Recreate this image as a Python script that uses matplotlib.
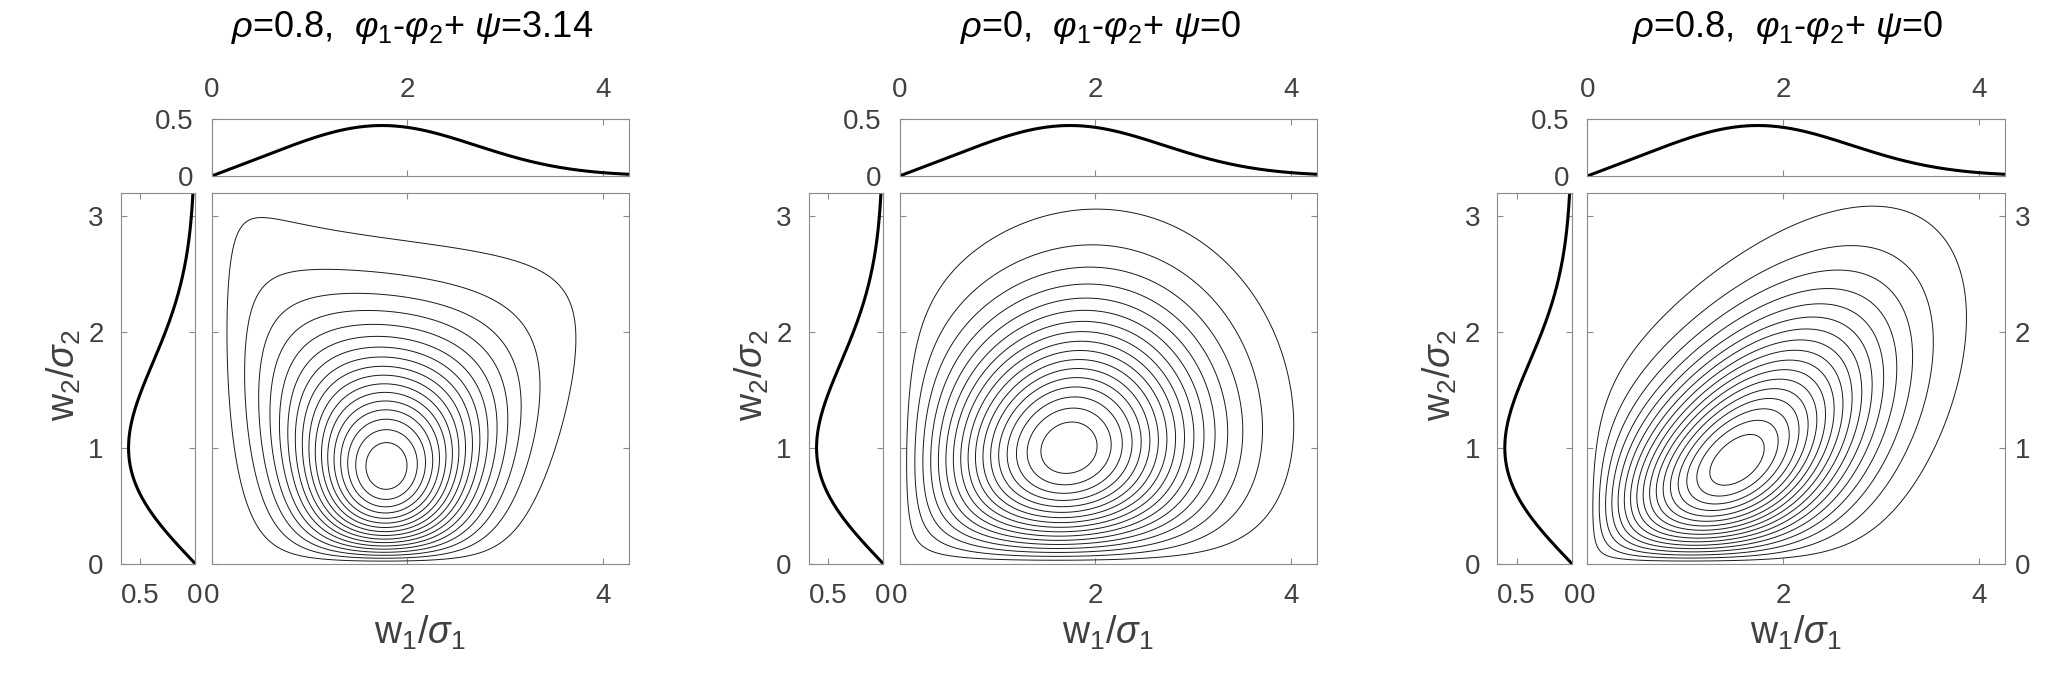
import numpy as np
import matplotlib
matplotlib.use('Agg')
import matplotlib.pyplot as plt

plt.rcParams['font.family'] = ['Liberation Sans', 'DejaVu Sans']
plt.rcParams['mathtext.fontset'] = 'custom'
plt.rcParams['mathtext.rm'] = 'Liberation Sans'
plt.rcParams['mathtext.it'] = 'Liberation Sans:italic'

# panel parameters (titles)
rho_labels = ['0.8', '0', '0.8']
phase_labels = ['3.14', '0', '0']

# marginals: w1/sigma1 is Rice, w2/sigma2 is Rayleigh
nu = 1.5
sig2 = 1.0

# values: peak, points on the outermost, second and innermost contour
peak_pts = [(1.83, 0.82), (1.73, 1.00), (1.70, 0.87)]
outer_pts = [
    [(0.11, 1.5), (0.22, 2.55), (0.58, 2.85), (1.2, 2.93), (1.95, 2.83), (2.86, 2.62),
     (3.5, 2.4), (3.69, 1.87), (3.55, 1.2), (3.22, 0.56), (2.86, 0.18)],
    [(1.74, 3.05), (0.08, 1.12), (4.0, 1.0), (3.2, 2.7), (3.79, 2.06)],
    [(0.12, 1.12), (0.28, 1.87), (0.46, 2.02), (1.69, 2.53), (2.74, 2.85), (3.42, 3.04),
     (3.79, 2.98), (3.96, 2.62), (3.92, 2.25), (3.6, 1.75), (3.19, 1.27), (2.74, 0.74), (2.28, 0.37)],
]
second_pts = [
    [(1.04, 2.62), (1.95, 2.53), (0.33, 1.5), (3.43, 1.7)],
    [],
    [],
]
inner_pts = [
    [(1.54, 0.82), (2.13, 0.82), (1.83, 1.045), (1.83, 0.593)],
    [(1.38, 0.98), (2.08, 0.98), (1.73, 1.18), (1.73, 0.78)],
    [(1.24, 0.74), (1.83, 1.12), (2.17, 1.01), (1.46, 0.61)],
]
n_terms = [7, 5, 5]
level_lo, level_hi, n_levels = 0.048, 0.952, 17
levels = np.linspace(level_lo, level_hi, n_levels)


def rice(x):
    return x * np.exp(-(x**2 + nu**2) / 2) * np.i0(nu * x)


def rayleigh(y):
    return y / sig2**2 * np.exp(-y**2 / (2 * sig2**2))


def log_f0(x, y):
    return np.log(rice(x)) + np.log(rayleigh(y))


def basis(x, y, n):
    return np.array([x, y, x**2, y**2, x * y, x**2 * y, x * y**2][:n])


def fit_tilt(k):
    # correction exp(c . basis) to the independent density, least squares on the read points
    n = n_terms[k]
    px, py = peak_pts[k]
    h = 1e-4
    rows, rhs, wts = [], [], []
    gx = (log_f0(px + h, py) - log_f0(px - h, py)) / (2 * h)
    gy = (log_f0(px, py + h) - log_f0(px, py - h)) / (2 * h)
    rows.append((basis(px + h, py, n) - basis(px - h, py, n)) / (2 * h))
    rows.append((basis(px, py + h, n) - basis(px, py - h, n)) / (2 * h))
    rhs += [-gx, -gy]
    wts += [3.0, 3.0]
    for pts, lv, w in [(outer_pts[k], levels[0], 1.0), (second_pts[k], levels[1], 1.0),
                       (inner_pts[k], levels[-1], 6.0)]:
        for x, y in pts:
            rows.append(basis(x, y, n) - basis(px, py, n))
            rhs.append(np.log(lv) - log_f0(x, y) + log_f0(px, py))
            wts.append(w)
    A = np.array(rows) * np.array(wts)[:, None]
    b = np.array(rhs) * np.array(wts)
    A = np.vstack([A, 0.01 * np.eye(n)])
    b = np.concatenate([b, np.zeros(n)])
    return np.linalg.lstsq(A, b, rcond=None)[0]


W, H = 2065, 680
main_x = [(211.7, 628.5), (899.5, 1316.9), (1587.3, 2004.7)]
marg_x = [(120.5, 195.0), (808.5, 883.0), (1496.7, 1571.7)]
main_y = (193.3, 563.5)
top_y = (119.3, 176.0)

frame = '#8a8a8a'
tick_txt = '#404040'


def box(xr, yr):
    return [xr[0] / W, (H - yr[1]) / H, (xr[1] - xr[0]) / W, (yr[1] - yr[0]) / H]


def style(ax):
    for s in ax.spines.values():
        s.set_color(frame)
        s.set_linewidth(0.8)
    ax.tick_params(direction='in', length=4, width=0.8, color=frame,
                   labelcolor=tick_txt, labelsize=20, top=True, right=True)


w1 = np.linspace(0.0005, 4.26, 500)
w2 = np.linspace(0.0005, 3.2, 400)
W1, W2 = np.meshgrid(w1, w2)

fig = plt.figure(figsize=(20.65, 6.8), dpi=100)

for k in range(3):
    c = fit_tilt(k)
    Z = np.exp(log_f0(W1, W2) + np.tensordot(c, basis(W1, W2, n_terms[k]), axes=1))
    Z = Z / Z.max()

    ax = fig.add_axes(box(main_x[k], main_y))
    ax.contour(W1, W2, Z, levels=levels, colors='#1a1a1a', linewidths=0.7)
    ax.set_xlim(0, 4.26)
    ax.set_ylim(0, 3.2)
    ax.set_xticks([0, 2, 4])
    ax.set_yticks([0, 1, 2, 3])
    style(ax)
    ax.tick_params(axis='x', pad=14)
    if k == 2:
        ax.tick_params(axis='y', labelleft=False, labelright=True, pad=7)
    else:
        ax.tick_params(axis='y', labelleft=False)

    axt = fig.add_axes(box(main_x[k], top_y))
    axt.plot(w1, rice(w1), color='k', lw=2.2)
    axt.set_xlim(0, 4.26)
    axt.set_ylim(0, 0.5)
    axt.set_xticks([0, 2, 4])
    axt.set_yticks([0, 0.5])
    axt.set_yticklabels(['0', '0.5'])
    style(axt)
    axt.tick_params(axis='x', labeltop=True, labelbottom=False, pad=12)
    axt.tick_params(axis='y', pad=13)

    axm = fig.add_axes(box(marg_x[k], main_y))
    axm.plot(rayleigh(w2), w2, color='k', lw=2.2)
    axm.set_xlim(0.68, 0)
    axm.set_ylim(0, 3.2)
    axm.set_xticks([0.5, 0])
    axm.set_xticklabels(['0.5', '0'])
    axm.set_yticks([0, 1, 2, 3])
    style(axm)
    axm.tick_params(axis='x', pad=14)
    axm.tick_params(axis='y', pad=12)

    cx = (main_x[k][0] + main_x[k][1]) / 2
    fig.text((cx - 8) / W, 1 - 37 / H,
             r'$\rho$=%s,  $\varphi_1$-$\varphi_2$+ $\psi$=%s' % (rho_labels[k], phase_labels[k]),
             ha='center', va='baseline', fontsize=26, color='k')
    fig.text(cx / W, 1 - 644 / H, r'w$_1$/$\sigma_1$', ha='center', va='baseline',
             fontsize=27, color=tick_txt)
    fig.text((marg_x[k][0] - 57) / W, 1 - 375 / H, r'w$_2$/$\sigma_2$', rotation=90,
             ha='center', va='center', fontsize=27, color=tick_txt)

fig.savefig('out.png', dpi=100)
